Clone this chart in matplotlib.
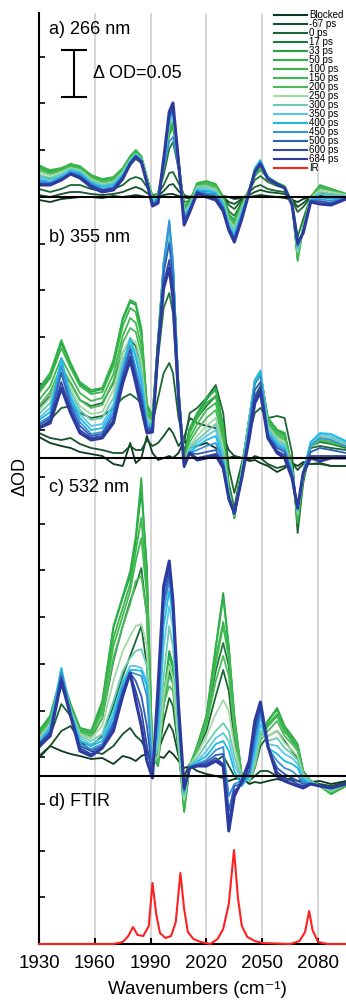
import numpy as np
import matplotlib
matplotlib.use('Agg')
import matplotlib.pyplot as plt
from matplotlib.ticker import MultipleLocator

plt.rcParams['font.family'] = ['Liberation Sans', 'DejaVu Sans']

# Wellenzahlen (cm-1), gemeinsames Raster fuer alle TRIR-Spektren
wn = [1930, 1936, 1942, 1947, 1952, 1958, 1964, 1970, 1975, 1979, 1982, 1985, 1988, 1991,
      1994, 1997, 2000, 2002, 2005, 2008, 2011, 2015, 2020, 2025, 2029, 2032, 2035, 2039,
      2043, 2046, 2049, 2053, 2058, 2062, 2066, 2069, 2072, 2076, 2081, 2087, 2095]

labels = ['Blocked', '-67 ps', '0 ps', '17 ps', '33 ps', '50 ps', '100 ps', '150 ps', '200 ps',
          '250 ps', '300 ps', '350 ps', '400 ps', '450 ps', '500 ps', '600 ps', '684 ps']
colors = ['#0d3b1e', '#15512a', '#1b6632', '#1f7a3a', '#27a244', '#2fb24a', '#3ab54a', '#3fba50',
          '#4cbb5c', '#a3d9a5', '#6ccbb0', '#5ac8e0', '#1db8ec', '#3a92d6', '#2b5fb8', '#3347a8',
          '#2e3b9e']

# Delta OD, Einheit: STEP = 0.05 OD
dod_266 = [
    [-3, -5, -2, -1, 0, 0, -1, 1, 0, 1, 2, 1, 0, -1, 0, 2, 3, 3, 1, 0, -1, 0, 1, 2, 1, 0, -2, -1, 0, 1, 2, 1, 0, -1, -3, -5, -2, 0, 1, 0, 0],
    [2, 0, 3, 5, 5, 3, 2, 3, 5, 8, 10, 8, 4, 0, 1, 6, 12, 13, 6, 0, -2, 2, 3, 3, 0, -5, -7, -2, 2, 5, 7, 5, 4, 3, -2, -10, -6, 0, 2, 1, 0],
    [8, 5, 8, 12, 12, 8, 6, 8, 12, 18, 20, 18, 10, 2, 3, 12, 24, 25, 14, 2, 0, 5, 6, 5, 0, -8, -12, -3, 5, 10, 12, 8, 6, 5, -3, -15, -10, 0, 4, 3, 1],
    [22, 18, 20, 25, 24, 17, 13, 15, 22, 32, 38, 34, 17, 1, 2, 22, 48, 55, 28, -5, -4, 9, 11, 10, -1, -14, -19, -5, 6, 17, 21, 15, 11, 9, -4, -40, -22, 0, 9, 6, 2],
    [30, 25, 27, 32, 29, 21, 16, 18, 27, 39, 45, 40, 19, 0, 3, 28, 62, 70, 33, -9, -5, 13, 15, 12, 0, -17, -23, -7, 8, 21, 27, 19, 13, 10, -5, -60, -29, 0, 11, 8, 3],
    [32, 26, 28, 33, 30, 22, 17, 19, 28, 40, 46, 40, 20, 0, 3, 30, 65, 74, 35, -10, -5, 14, 16, 13, 0, -18, -24, -8, 8, 22, 28, 20, 14, 11, -5, -62, -30, 0, 12, 8, 3],
    [31, 27, 29, 33, 31, 22, 18, 20, 29, 41, 47, 41, 20, -1, 3, 31, 68, 77, 36, -12, -6, 13, 15, 12, -1, -19, -25, -9, 8, 23, 29, 20, 14, 11, -5, -64, -31, 0, 11, 8, 3],
    [29, 24, 27, 31, 28, 20, 16, 18, 27, 39, 45, 40, 19, -1, 3, 32, 70, 78, 37, -13, -7, 12, 14, 11, -2, -20, -27, -9, 8, 24, 30, 20, 14, 10, -5, -60, -31, -1, 10, 7, 2],
    [27, 23, 26, 30, 28, 19, 15, 17, 26, 38, 44, 39, 18, -2, 2, 32, 70, 78, 36, -14, -7, 11, 13, 10, -3, -21, -28, -10, 7, 24, 30, 19, 13, 10, -6, -58, -32, -1, 9, 6, 2],
    [25, 21, 25, 29, 27, 18, 13, 15, 25, 37, 43, 38, 18, -3, 1, 33, 72, 80, 37, -15, -8, 10, 11, 8, -4, -23, -30, -11, 7, 25, 31, 19, 13, 10, -6, -55, -32, -1, 7, 5, 2],
    [22, 19, 23, 28, 26, 16, 12, 14, 24, 36, 43, 38, 17, -4, 0, 33, 73, 82, 37, -17, -9, 9, 10, 7, -5, -25, -32, -13, 6, 26, 32, 19, 13, 9, -6, -53, -33, -2, 5, 3, 1],
    [20, 17, 22, 27, 25, 15, 11, 13, 23, 36, 42, 37, 17, -5, 0, 34, 75, 84, 37, -19, -10, 8, 8, 5, -7, -27, -35, -15, 6, 28, 35, 20, 13, 9, -7, -52, -34, -2, 3, 1, 1],
    [18, 15, 20, 26, 24, 14, 10, 12, 22, 35, 42, 37, 16, -6, -1, 34, 76, 86, 37, -20, -11, 7, 6, 4, -8, -29, -38, -16, 6, 29, 37, 20, 13, 9, -7, -50, -34, -3, 0, -2, 0],
    [16, 14, 19, 25, 22, 13, 8, 10, 21, 34, 41, 36, 16, -7, -2, 30, 55, 60, 30, -22, -12, 6, 4, 2, -10, -30, -40, -18, 5, 27, 35, 19, 13, 9, -7, -49, -35, -3, -2, -4, 0],
    [14, 13, 18, 24, 21, 12, 7, 9, 20, 34, 41, 36, 15, -8, -4, 36, 80, 88, 36, -24, -13, 5, 2, 0, -11, -31, -42, -19, 5, 26, 34, 19, 13, 9, -8, -48, -35, -4, -4, -6, -1],
    [13, 12, 17, 23, 20, 11, 6, 8, 19, 33, 40, 35, 15, -8, -5, 37, 83, 91, 36, -26, -14, 4, 1, -1, -13, -32, -43, -21, 5, 25, 33, 18, 13, 9, -8, -47, -36, -4, -6, -7, -2],
    [12, 12, 17, 23, 19, 10, 5, 7, 18, 33, 40, 35, 14, -9, -6, 38, 85, 94, 35, -28, -15, 4, 0, -3, -14, -33, -45, -22, 5, 25, 33, 18, 13, 9, -8, -46, -36, -5, -7, -8, -2],
]

dod_355 = [
    [21, 15, 12, 10, 6, 4, 2, -6, -8, 15, -5, 0, 22, 5, -2, 0, 2, 0, 5, 18, 10, 12, 15, 10, 5, 0, 2, 0, -3, -2, -5, -8, -14, -10, -5, -8, -4, -6, -5, -8, -8],
    [25, 20, 18, 20, 14, 10, 8, 5, 5, 12, 8, 8, 18, 12, 15, 22, 30, 25, 12, 20, 40, 35, 32, 30, 22, 8, 2, 0, -2, 2, 0, -6, -10, -8, -5, -12, -6, -6, -6, -8, -8],
    [30, 38, 50, 52, 45, 40, 42, 50, 60, 64, 60, 55, 38, 35, 60, 85, 95, 85, 40, 15, 45, 50, 60, 73, 45, -10, -35, -5, 25, 45, 50, 40, 42, 40, 5, -75, -25, 10, 12, 10, 8],
    [50, 62, 85, 75, 58, 52, 55, 75, 105, 118, 112, 95, 45, 38, 100, 150, 165, 145, 55, 5, 30, 40, 52, 62, 30, -25, -50, -8, 35, 62, 72, 35, 28, 24, -8, -60, -20, 12, 16, 14, 10],
    [68, 82, 115, 93, 74, 66, 69, 96, 138, 156, 153, 128, 52, 42, 118, 192, 220, 188, 68, -5, 28, 43, 58, 70, 32, -30, -60, -10, 40, 75, 85, 40, 28, 25, -10, -65, -20, 12, 18, 15, 12],
    [70, 85, 118, 95, 76, 68, 70, 98, 140, 158, 155, 130, 54, 42, 120, 195, 222, 190, 70, -5, 30, 45, 60, 68, 30, -30, -60, -10, 40, 75, 85, 40, 28, 25, -10, -65, -20, 12, 18, 15, 12],
    [65, 80, 110, 90, 72, 64, 66, 92, 132, 150, 146, 122, 50, 40, 118, 195, 225, 192, 70, -6, 25, 40, 55, 62, 25, -32, -60, -12, 40, 76, 86, 38, 26, 22, -10, -62, -20, 12, 18, 16, 12],
    [58, 72, 100, 82, 65, 57, 60, 84, 122, 140, 135, 112, 46, 38, 115, 190, 222, 190, 68, -6, 20, 34, 48, 55, 20, -32, -58, -12, 40, 76, 86, 36, 24, 20, -10, -60, -18, 12, 18, 16, 12],
    [52, 66, 92, 75, 58, 50, 53, 77, 115, 130, 126, 104, 42, 36, 112, 188, 220, 188, 66, -6, 16, 28, 40, 48, 15, -34, -58, -13, 40, 77, 86, 34, 22, 18, -11, -58, -18, 12, 18, 16, 12],
    [48, 60, 88, 70, 52, 44, 46, 68, 105, 120, 116, 96, 40, 35, 110, 185, 218, 186, 65, -6, 12, 22, 32, 40, 10, -35, -57, -14, 38, 77, 87, 32, 20, 16, -12, -56, -17, 12, 20, 18, 14],
    [44, 55, 90, 66, 48, 38, 40, 60, 98, 114, 108, 88, 38, 34, 110, 188, 225, 190, 66, -7, 10, 18, 26, 34, 5, -36, -56, -15, 38, 78, 88, 30, 18, 14, -12, -54, -16, 14, 22, 20, 15],
    [40, 50, 95, 62, 44, 32, 34, 54, 92, 110, 104, 82, 36, 33, 110, 192, 232, 194, 66, -8, 8, 15, 22, 28, 2, -38, -56, -16, 36, 78, 87, 28, 16, 12, -13, -52, -15, 15, 24, 22, 16],
    [38, 46, 100, 60, 40, 28, 30, 50, 90, 120, 100, 76, 34, 32, 110, 196, 238, 196, 66, -9, 6, 12, 18, 22, -2, -40, -56, -18, 35, 78, 86, 26, 14, 10, -14, -52, -14, 16, 25, 24, 17],
    [35, 42, 92, 56, 36, 24, 26, 46, 86, 112, 90, 68, 32, 30, 108, 192, 236, 195, 65, -9, 5, 8, 12, 15, -4, -42, -56, -19, 32, 74, 82, 24, 12, 8, -15, -51, -14, 12, 20, 18, 12],
    [33, 40, 85, 52, 32, 22, 24, 42, 82, 108, 84, 62, 30, 29, 108, 185, 215, 178, 63, -9, 5, 4, 6, 8, -6, -42, -56, -19, 28, 68, 76, 22, 10, 6, -16, -51, -15, 6, 10, 8, 5],
    [31, 37, 76, 48, 28, 20, 22, 38, 78, 102, 80, 56, 28, 28, 108, 175, 198, 166, 61, -8, 5, 0, 2, 4, -8, -41, -56, -20, 24, 60, 70, 21, 7, 3, -18, -50, -15, 2, 2, 2, 2],
    [30, 35, 70, 45, 25, 18, 20, 35, 75, 98, 75, 50, 25, 26, 110, 170, 190, 160, 60, -8, 5, -2, 0, 3, -10, -40, -55, -20, 20, 55, 66, 20, 5, 0, -20, -50, -15, 0, -3, 0, 0],
]

dod_532 = [
    [18, 30, 25, 22, 20, 17, 18, 12, 20, 18, 15, 20, 22, 18, 20, 18, 25, 22, 15, 8, 10, 5, 2, 0, -2, -5, -3, -2, -8, -6, -7, -5, -3, -5, -2, -5, -3, -6, -5, -8, -5],
    [20, 30, 45, 50, 35, 25, 22, 30, 42, 48, 40, 35, 25, 10, 25, 40, 52, 45, 20, 0, 12, 10, 10, 15, 20, 10, 0, -5, -5, 0, 5, 5, 0, -2, -4, -5, -5, -6, -8, -10, -6],
    [28, 40, 72, 60, 35, 30, 40, 70, 100, 120, 135, 150, 110, 15, 20, 55, 78, 70, 25, -20, 10, 25, 45, 80, 106, 85, 35, -3, -6, 8, 30, 40, 45, 35, 25, 18, 2, -6, -10, -15, -8],
    [38, 52, 90, 68, 42, 38, 58, 115, 150, 175, 190, 208, 160, 18, 15, 70, 105, 95, 30, -30, 10, 28, 55, 105, 133, 110, 50, -2, -5, 10, 38, 50, 60, 45, 35, 28, 4, -5, -10, -17, -9],
    [45, 60, 102, 72, 48, 45, 72, 148, 178, 200, 235, 285, 210, 20, 10, 78, 125, 110, 32, -36, 10, 30, 60, 130, 183, 130, 60, 0, -5, 10, 40, 55, 68, 50, 40, 32, 5, -5, -10, -18, -10],
    [45, 60, 100, 70, 48, 45, 75, 150, 180, 205, 240, 298, 200, 20, 10, 80, 120, 108, 30, -35, 10, 30, 60, 128, 178, 128, 58, 0, -5, 10, 40, 55, 66, 48, 40, 30, 5, -5, -10, -18, -10],
    [43, 58, 98, 70, 46, 43, 68, 138, 168, 192, 225, 258, 190, 18, 12, 76, 112, 100, 30, -32, 10, 28, 58, 118, 154, 124, 55, 0, -5, 10, 40, 52, 62, 46, 38, 30, 4, -5, -10, -18, -10],
    [42, 56, 100, 70, 45, 42, 64, 130, 160, 185, 215, 238, 180, 16, 14, 74, 100, 92, 28, -30, 10, 28, 55, 112, 150, 118, 52, 0, -5, 10, 38, 50, 60, 44, 36, 28, 4, -5, -10, -17, -9],
    [40, 54, 98, 68, 44, 40, 58, 118, 150, 172, 195, 200, 160, 14, 15, 72, 90, 85, 28, -28, 10, 26, 50, 95, 120, 100, 45, -1, -5, 10, 36, 45, 55, 40, 32, 25, 3, -6, -10, -16, -9],
    [38, 52, 100, 66, 42, 38, 50, 95, 125, 140, 150, 152, 130, 12, 20, 80, 110, 98, 32, -24, 10, 22, 40, 62, 76, 65, 30, -2, -5, 12, 40, 40, 45, 33, 26, 20, 2, -6, -10, -15, -8],
    [36, 50, 105, 66, 40, 35, 42, 75, 105, 118, 125, 127, 110, 10, 30, 100, 150, 130, 40, -20, 10, 18, 32, 45, 53, 45, 20, -3, -4, 15, 45, 35, 38, 28, 22, 16, 0, -6, -10, -14, -8],
    [35, 50, 108, 65, 38, 32, 38, 65, 95, 110, 110, 108, 95, 8, 40, 130, 170, 148, 48, -18, 10, 15, 25, 38, 43, 35, 12, -5, -3, 20, 52, 32, 30, 22, 18, 12, -2, -6, -10, -13, -8],
    [33, 48, 108, 64, 35, 30, 35, 60, 92, 106, 106, 105, 90, 6, 50, 150, 185, 160, 55, -16, 10, 14, 20, 32, 35, 25, 5, -10, 0, 28, 60, 28, 22, 15, 12, 8, -4, -7, -10, -12, -8],
    [32, 45, 104, 62, 32, 27, 32, 55, 88, 104, 102, 100, 80, 4, 60, 165, 195, 168, 60, -15, 9, 12, 16, 26, 29, -20, -8, -5, 2, 35, 65, 28, 15, 8, 5, 0, -6, -8, -10, -12, -8],
    [32, 44, 100, 62, 30, 25, 30, 52, 85, 103, 95, 80, 50, 2, 70, 175, 202, 172, 63, -14, 9, 11, 14, 21, 22, -35, -10, -8, 5, 42, 68, 28, 8, 2, -2, -5, -8, -8, -10, -12, -8],
    [31, 42, 98, 61, 28, 22, 29, 48, 82, 102, 85, 65, 30, 0, 80, 185, 208, 174, 66, -13, 8, 10, 12, 18, 12, -45, -15, -8, 10, 50, 72, 30, 4, -2, -5, -8, -10, -8, -10, -12, -8],
    [30, 40, 95, 60, 25, 20, 28, 45, 80, 103, 75, 50, 15, -2, 90, 190, 215, 175, 70, -12, 8, 10, 10, 15, 10, -55, -20, -5, 15, 55, 74, 30, 0, -5, -8, -10, -12, -8, -10, -12, -8],
]

# FTIR (Grundzustand)
ftir_wn = [1930, 1970, 1975, 1978, 1980.5, 1983, 1986, 1989, 1991, 1993, 1995, 1998, 2001, 2003.5,
           2006, 2008, 2010, 2013, 2017, 2022, 2026, 2029, 2032, 2034.8, 2037, 2039, 2042, 2046,
           2050, 2065, 2070, 2073, 2075.2, 2077, 2080, 2085, 2095]
ftir_abs = [0, 0, 2, 8, 17, 9, 8, 18, 61, 30, 11, 6, 8, 22, 71, 35, 12, 5, 2, 0, 5, 15, 40, 94,
            45, 18, 7, 3, 1, 0, 3, 12, 33, 14, 2, 0, 0]

STEP = 46.7                      # entspricht 0.05 OD
offsets = [747, 486, 168]        # Basislinien a), b), c)
panel_text = ['a) 266 nm', 'b) 355 nm', 'c) 532 nm', 'd) FTIR']
text_y = [915, 707, 457, 142]

fig = plt.figure(figsize=(3.46, 10.01), dpi=100)
ax = fig.add_axes([39/346, 57/1001, 307/346, 931/1001])

for panel, off in zip([dod_266, dod_355, dod_532], offsets):
    for i, row in enumerate(panel):
        assert len(row) == len(wn)
        lw = 2.2 if i == len(labels) - 1 else 1.3
        ax.plot(wn, off + np.array(row), color=colors[i], lw=lw,
                label=labels[i] if off == offsets[0] else None)
    ax.axhline(off, color='k', lw=1.5)

ax.plot(ftir_wn, ftir_abs, color='#ff2020', lw=1.5, label='IR', clip_on=False, zorder=3)

# Skalenbalken
ax.errorbar([1948.7], [847 + STEP/2], yerr=STEP/2, fmt='none', ecolor='k',
            elinewidth=1.5, capsize=9.7, capthick=1.5)
ax.text(1959, 871, 'Δ OD=0.05', fontsize=13, va='center', ha='left')

for t, y in zip(panel_text, text_y):
    ax.text(1935.4, y, t, fontsize=13, va='center', ha='left')

ax.set_xlim(1930, 2095)
ax.set_ylim(0, 931)
ax.set_xticks([1930, 1960, 1990, 2020, 2050, 2080])
ax.yaxis.set_major_locator(MultipleLocator(STEP))
ax.tick_params(axis='y', direction='in', length=4, width=1.2, labelleft=False)
ax.tick_params(axis='x', direction='in', length=4, width=1.5, labelsize=13.5, pad=8)
ax.grid(axis='x', color='#cfcfcf', lw=1.2)
ax.set_axisbelow(True)
for s in ['top', 'right']:
    ax.spines[s].set_visible(False)
for s in ['left', 'bottom']:
    ax.spines[s].set_linewidth(1.5)

fig.text(20/346, 1 - 476/1001, 'ΔOD', rotation=90, ha='center', va='center', fontsize=13)
fig.text(197/346, 1 - 990/1001, 'Wavenumbers (cm⁻¹)', ha='center', va='center', fontsize=13.5)

leg = ax.legend(loc='upper left', bbox_to_anchor=(0.793, 1 - 10/1001), bbox_transform=fig.transFigure,
                frameon=False, fontsize=7, handlelength=3.4, handletextpad=0.2, labelspacing=-0.1,
                borderpad=0, borderaxespad=0)
for line in leg.get_lines():
    line.set_linewidth(1.5)

plt.savefig('out.png', dpi=100)
